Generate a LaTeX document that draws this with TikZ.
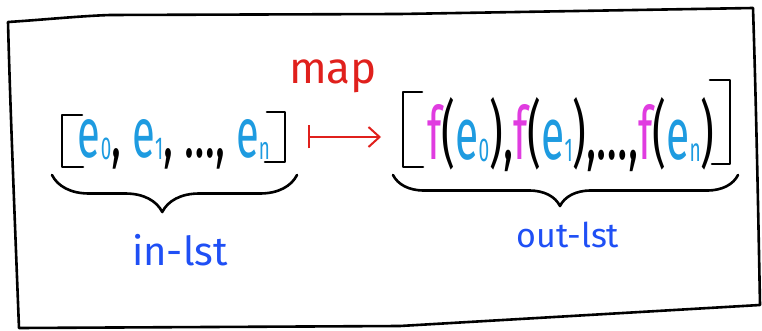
\documentclass[tikz,border=0pt]{standalone}
\usepackage{fontspec}
\IfFontExistsTF{FiraSans-Light.otf}{\setmainfont{FiraSans-Light.otf}}{\setmainfont{Fira Sans}}
\usetikzlibrary{arrows.meta,decorations.pathreplacing}
\definecolor{ecol}{HTML}{1E9BE0}
\definecolor{fcol}{HTML}{E03CE0}
\definecolor{lblcol}{HTML}{1F4FF5}
\definecolor{mapcol}{HTML}{E0201C}
\newcommand{\elem}[1]{\textcolor{ecol}{e\raisebox{-0.05ex}{\scalebox{0.45}{#1}}}}
\newcommand{\felem}[1]{\textcolor{fcol}{f}(\elem{#1})}
\begin{document}
\begin{tikzpicture}[x=1pt,y=-1pt,
  ink/.style={line width=2.6pt,line cap=round,line join=round},
  bracketline/.style={ink},
  bracestyle/.style={ink,decorate,decoration={brace,mirror,amplitude=#1}},
  lbl/.style={text=lblcol,font=\fontsize{40}{40}\selectfont,anchor=base},
]
\useasboundingbox (0,0) rectangle (762,331);
% frame
\draw[ink] (8,22) .. controls (40,20) and (80,16) .. (110,15) -- (400,14) -- (753,8)
  .. controls (756,100) and (758,200) .. (760,305) -- (400,326) -- (19,328)
  .. controls (14,200) and (10,100) .. (8,22) -- cycle;
% left list
\node[anchor=base,inner sep=0pt] (intext) at (174,158)
  {\resizebox{192pt}{38pt}{\fontsize{46}{46}\selectfont\elem{0}, \elem{1}, \dots, \elem{n}}};
\draw[bracketline] (82,115) -- (62,115) -- (62,167) -- (83,167);
\draw[bracketline] (267,112) -- (285,112) -- (285,162) -- (265,162);
\coordinate (lb1) at (52,175);
\coordinate (lb2) at (297,175);
\draw[bracestyle=37pt,decoration={aspect=0.45}] (lb1) -- (lb2);
\node[lbl] (inlbl) at (180,265) {in-lst};
% map arrow
\node[text=mapcol,font=\fontsize{44}{44}\selectfont,anchor=base] (maplbl) at (333,84) {map};
\coordinate (a1) at (308,137);
\coordinate (a2) at (381,137);
\draw[mapcol,line width=2pt,{Bar[width=23pt]}-{Straight Barb[length=11pt,width=20pt]}] (a1) -- (a2);
% right list
\node[anchor=base,inner sep=0pt] (outtext) at (571,160)
  {\resizebox{287pt}{62pt}{\fontsize{56}{56}\selectfont\felem{0},\felem{1},\dots,\felem{n}}};
\draw[bracketline] (422,92) -- (403,92) -- (403,167) -- (423,167);
\draw[bracketline] (710,80) -- (730,80) -- (730,164) -- (712,164);
\coordinate (rb1) at (393,175);
\coordinate (rb2) at (738,175);
\draw[bracestyle=31pt,decoration={aspect=0.484}] (rb1) -- (rb2);
\node[lbl,font=\fontsize{34}{34}\selectfont] (outlbl) at (568,247) {out-lst};
\end{tikzpicture}
\end{document}
